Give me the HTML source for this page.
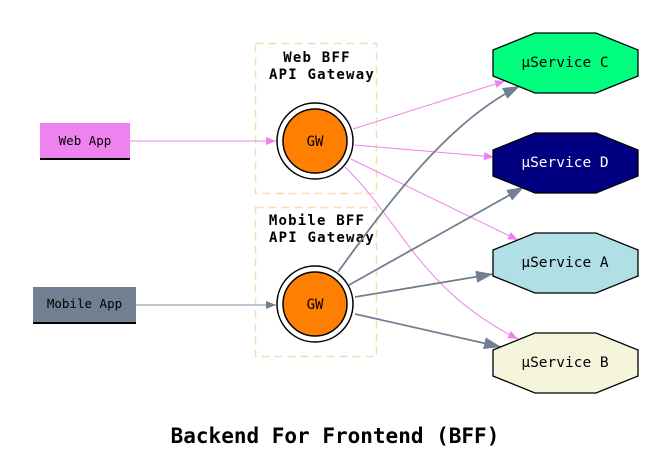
<!DOCTYPE html>
<html><head><meta charset="utf-8"><style>body{margin:0;background:#fff}</style></head><body>
<svg width="671" height="463" viewBox="0 0 671 463" xmlns="http://www.w3.org/2000/svg" font-family="'DejaVu Sans Mono','Liberation Mono',monospace">
<defs>
<marker id="pv" markerWidth="10" markerHeight="8" refX="10" refY="4" orient="auto" markerUnits="userSpaceOnUse"><path d="M0,0L10,4L0,8Z" fill="violet"/></marker>
<marker id="gs" markerWidth="17" markerHeight="12" refX="17" refY="6" orient="auto" markerUnits="userSpaceOnUse"><path d="M0,0L17,6L0,12Z" fill="#708090"/></marker>
<marker id="gs2" markerWidth="10" markerHeight="8" refX="10" refY="4" orient="auto" markerUnits="userSpaceOnUse"><path d="M0,0L10,4L0,8Z" fill="#708090"/></marker>
</defs>
<rect x="255.5" y="43.5" width="121" height="150" fill="none" stroke="#f5deb3" stroke-width="1.5" stroke-dasharray="8,5"/>
<rect x="255.5" y="207.5" width="121" height="149" fill="none" stroke="#f5deb3" stroke-width="1.5" stroke-dasharray="8,5"/>
<g font-weight="bold" font-size="14" text-anchor="middle" letter-spacing="1.2">
<text x="317" y="62">Web BFF</text><text x="322" y="79">API Gateway</text>
<text x="317" y="225">Mobile BFF</text><text x="322" y="242">API Gateway</text>
</g>
<g stroke="violet" stroke-width="1" fill="none" marker-end="url(#pv)">
<line x1="130" y1="141" x2="276" y2="141"/>
<line x1="353" y1="129" x2="505" y2="81"/>
<line x1="355" y1="145" x2="494" y2="157"/>
<line x1="351" y1="159" x2="518" y2="240"/>
<path d="M345,167 C400,220 420,290 518,339"/>
</g>
<g stroke="#708090" stroke-width="1.8" fill="none" marker-end="url(#gs)">
<path d="M338,272 C390,200 450,120 520,86"/>
<line x1="349" y1="285" x2="524" y2="187"/>
<line x1="355" y1="297" x2="493" y2="274"/>
<line x1="355" y1="314" x2="501" y2="347"/>
</g>
<line x1="136" y1="305" x2="276" y2="305" stroke="#a9b4c0" stroke-width="1.5" marker-end="url(#gs2)"/>
<rect x="40" y="123" width="90" height="36" fill="violet"/>
<line x1="40" y1="159" x2="130" y2="159" stroke="#000" stroke-width="2"/>
<text x="85" y="145" font-size="12.5" text-anchor="middle">Web App</text>
<rect x="33" y="287" width="103" height="36" fill="#708090"/>
<line x1="33" y1="323" x2="136" y2="323" stroke="#000" stroke-width="2"/>
<text x="84.5" y="308" font-size="12.5" text-anchor="middle">Mobile App</text>
<g stroke="#000" stroke-width="1.5">
<circle cx="315" cy="141" r="38" fill="#fff"/><circle cx="315" cy="141" r="32" fill="#ff7f00"/>
<circle cx="315" cy="304" r="38" fill="#fff"/><circle cx="315" cy="304" r="32" fill="#ff7f00"/>
</g>
<text x="315" y="146" font-size="14" text-anchor="middle">GW</text>
<text x="315" y="309" font-size="14" text-anchor="middle">GW</text>
<g stroke="#000" stroke-width="1.3">
<polygon points="493,50 535,33 596,33 638,50 638,76 596,93 535,93 493,76" fill="#00ff7f"/>
<polygon points="493,150 535,133 596,133 638,150 638,176 596,193 535,193 493,176" fill="#000080"/>
<polygon points="493,250 535,233 596,233 638,250 638,276 596,293 535,293 493,276" fill="#b0dfe5"/>
<polygon points="493,350 535,333 596,333 638,350 638,376 596,393 535,393 493,376" fill="#f5f5dc"/>
</g>
<g font-size="14.5" text-anchor="middle">
<text x="565" y="67">µService C</text>
<text x="565" y="167" fill="#fff">µService D</text>
<text x="565" y="267">µService A</text>
<text x="565" y="367">µService B</text>
</g>
<text x="335" y="443" font-size="21" font-weight="bold" text-anchor="middle">Backend For Frontend (BFF)</text>
</svg>
</body></html>
